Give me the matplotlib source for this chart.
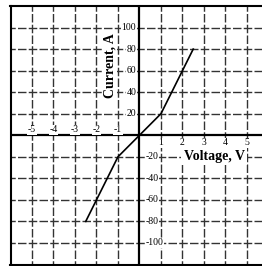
import matplotlib.pyplot as plt

# I-V curve data
voltage = [-2.5, -1, 0, 1, 2.5]
current = [-80, -20, 0, 20, 80]

x_ticks = [-5, -4, -3, -2, -1, 1, 2, 3, 4, 5]
y_ticks = [-100, -80, -60, -40, -20, 20, 40, 60, 80, 100]

plt.rcParams['font.family'] = ['Liberation Serif', 'DejaVu Serif']
plt.rcParams['lines.scale_dashes'] = False

fig = plt.figure(figsize=(2.62, 2.66), dpi=100)
ax = fig.add_axes([10.5 / 262, 1.5 / 266, 251.5 / 262, 258.5 / 266])
ax.set_xlim(-6, 5.7)
ax.set_ylim(-120, 120)

ax.set_xticks(x_ticks)
ax.set_yticks(y_ticks)
ax.tick_params(length=0, labelbottom=False, labelleft=False)
ax.grid(True, color='#333333', linewidth=1.0, linestyle=(3.06, (6.12, 1.62)))

for s in ['left', 'top', 'bottom']:
    ax.spines[s].set_linewidth(1.5)
ax.spines['right'].set_visible(False)

# main axes through origin
ax.axhline(0, color='black', linewidth=1.6, zorder=3)
ax.axvline(0, color='black', linewidth=1.6, zorder=3)

ax.plot(voltage, current, color='black', linewidth=1.2, zorder=4)

box = dict(facecolor='white', edgecolor='none', pad=0.5)
for x in x_ticks:
    if x < 0:
        ax.text(x, 5, str(x), ha='center', va='center', fontsize=7, bbox=box, zorder=5)
    else:
        ax.text(x, -7, str(x), ha='center', va='center', fontsize=7, bbox=box, zorder=5)
for y in y_ticks:
    if y > 0:
        ax.text(-0.15, y, str(y), ha='right', va='center', fontsize=7, bbox=box, zorder=5)
    else:
        ax.text(0.27, y, str(y), ha='left', va='center', fontsize=7, bbox=box, zorder=5)

ax.text(-1.37, 65, 'Current, A', rotation=90, ha='center', va='center',
        fontsize=10, fontweight='bold', bbox=dict(facecolor='white', edgecolor='none', pad=0.5), zorder=5)
ax.text(3.47, -20, 'Voltage, V', ha='center', va='center',
        fontsize=10, fontweight='bold', bbox=dict(facecolor='white', edgecolor='none', pad=1.5), zorder=5)

fig.savefig('out.png', dpi=100)
